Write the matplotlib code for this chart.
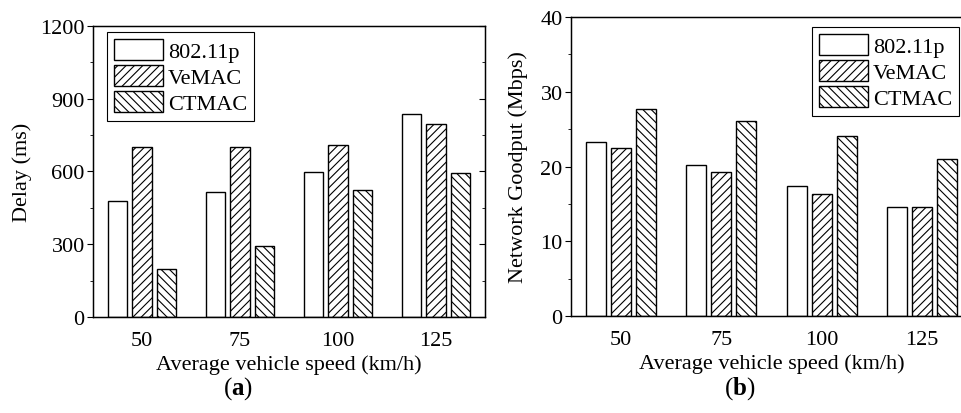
import numpy as np
import matplotlib
matplotlib.use("Agg")
import matplotlib.pyplot as plt
from matplotlib.ticker import MultipleLocator

plt.rcParams['font.family'] = ['Liberation Serif', 'DejaVu Serif']
plt.rcParams['mathtext.fontset'] = 'custom'
plt.rcParams['mathtext.rm'] = 'Liberation Serif'
plt.rcParams['mathtext.bf'] = 'Liberation Serif:bold'
plt.rcParams['hatch.linewidth'] = 0.8

speeds = ["50", "75", "100", "125"]
schemes = ["802.11p", "VeMAC", "CTMAC"]
hatches = ["", "////", "\\\\\\\\"]

# delay (ms)
delay_80211p = [480, 515, 597, 838]
delay_vemac = [700, 700, 710, 795]
delay_ctmac = [197, 293, 522, 595]

# network goodput (Mbps)
gp_80211p = [23.3, 20.2, 17.4, 14.6]
gp_vemac = [22.5, 19.3, 16.3, 14.6]
gp_ctmac = [27.7, 26.1, 24.1, 21.0]

fs = 16
fig = plt.figure(figsize=(9.62, 4.14), dpi=100)
ax1 = fig.add_axes([0.0967, 0.2319, 0.4075, 0.7029])
ax2 = fig.add_axes([0.5936, 0.2343, 0.4168, 0.7222])


def draw(ax, series, ylim, major, minor, ylabel, legend_loc, anchor, ylpad):
    x = np.arange(1, len(speeds) + 1)
    for i, (vals, name, h) in enumerate(zip(series, schemes, hatches)):
        ax.bar(x + (i - 1) * 0.25, vals, width=0.2, color="white",
               edgecolor="black", linewidth=1.0, hatch=h, label=name)
    ax.set_xlim(0.5, 4.5)
    ax.set_ylim(*ylim)
    ax.set_xticks(x)
    ax.set_xticklabels(speeds)
    ax.yaxis.set_major_locator(MultipleLocator(major))
    ax.yaxis.set_minor_locator(MultipleLocator(minor))
    ax.tick_params(axis="x", length=0, pad=10, labelsize=fs)
    ax.tick_params(axis="y", which="major", direction="out", length=4, labelsize=fs, pad=2)
    ax.tick_params(axis="y", which="minor", direction="out", length=2.5)
    for s in ax.spines.values():
        s.set_linewidth(1.0)
    tw = ax.twinx()
    tw.set_ylim(*ylim)
    tw.yaxis.set_major_locator(MultipleLocator(major))
    tw.yaxis.set_minor_locator(MultipleLocator(minor))
    tw.tick_params(axis="y", which="major", direction="in", length=4, labelright=False)
    tw.tick_params(axis="y", which="minor", direction="in", length=2.5)
    ax.set_xlabel("Average vehicle speed (km/h)", fontsize=fs, labelpad=3)
    ax.set_ylabel(ylabel, fontsize=fs, labelpad=ylpad)
    leg = ax.legend(loc=legend_loc, bbox_to_anchor=anchor, fontsize=fs,
                    handlelength=2.2, handleheight=1.1,
                    labelspacing=0.13, handletextpad=0.25, borderpad=0.3,
                    borderaxespad=0, fancybox=False, edgecolor="black", framealpha=1)
    leg.get_frame().set_linewidth(0.8)


draw(ax1, [delay_80211p, delay_vemac, delay_ctmac], (0, 1200), 300, 150,
     "Delay (ms)", "upper left", (0.036, 0.979), 6)
draw(ax2, [gp_80211p, gp_vemac, gp_ctmac], (0, 40), 10, 5,
     "Network Goodput (Mbps)", "upper right", (0.9676, 0.9666), 9)

fig.text(0.247, 0.062, r"($\mathbf{a}$)", ha="center", va="center", fontsize=18)
fig.text(0.769, 0.062, r"($\mathbf{b}$)", ha="center", va="center", fontsize=18)

fig.savefig("out.png", dpi=100)
